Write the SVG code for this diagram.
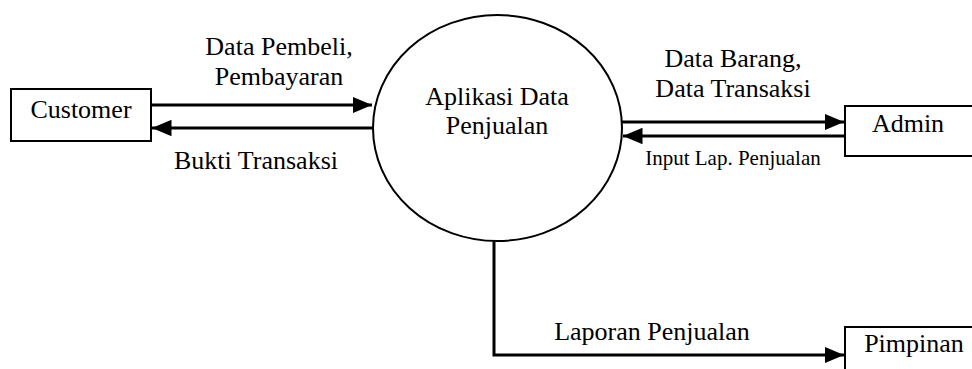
<svg xmlns="http://www.w3.org/2000/svg" width="972" height="369" viewBox="0 0 972 369">
<style>
.box{fill:#fff;stroke:#000;stroke-width:2}
.ln{fill:none;stroke:#000;stroke-width:3}
text{font-family:"Liberation Serif","Times New Roman",serif;font-size:26px;fill:#000}
.sm{font-size:21px}
</style>
<defs>
<marker id="ah" viewBox="0 0 10 10" refX="10" refY="5" markerWidth="6.5" markerHeight="5.5" orient="auto" markerUnits="strokeWidth" preserveAspectRatio="none"><path d="M0,0 L10,5 L0,10 Z" fill="#000"/></marker>
</defs>
<rect width="972" height="369" fill="#fff"/>
<g id="connectors">
<line class="ln" x1="151" y1="105" x2="372" y2="105" marker-end="url(#ah)"/>
<line class="ln" x1="373" y1="128" x2="152" y2="128" marker-end="url(#ah)"/>
<line class="ln" x1="622" y1="122" x2="844" y2="122" marker-end="url(#ah)"/>
<line class="ln" x1="845" y1="136" x2="623" y2="136" marker-end="url(#ah)"/>
<polyline class="ln" points="494,241 494,355 844,355" marker-end="url(#ah)"/>
<text x="279" y="55" text-anchor="middle">Data Pembeli,</text>
<text x="279" y="85" text-anchor="middle">Pembayaran</text>
<text x="256" y="169" text-anchor="middle">Bukti Transaksi</text>
<text x="733" y="67" text-anchor="middle">Data Barang,</text>
<text x="733" y="97" text-anchor="middle">Data Transaksi</text>
<text class="sm" x="733" y="165" text-anchor="middle">Input Lap. Penjualan</text>
<text x="652" y="340" text-anchor="middle">Laporan Penjualan</text>
</g>
<g id="process">
<ellipse cx="497.5" cy="128" rx="124.5" ry="113" fill="#fff" stroke="#000" stroke-width="2"/>
<text x="497" y="105" text-anchor="middle">Aplikasi Data</text>
<text x="497" y="134" text-anchor="middle">Penjualan</text>
</g>
<g id="customer">
<rect class="box" x="11" y="89" width="140" height="52"/>
<text x="81" y="118" text-anchor="middle">Customer</text>
</g>
<g id="admin">
<rect class="box" x="845" y="106" width="140" height="50"/>
<text x="908" y="132" text-anchor="middle">Admin</text>
</g>
<g id="pimpinan">
<rect class="box" x="845" y="327" width="140" height="60"/>
<text x="914" y="352" text-anchor="middle">Pimpinan</text>
</g>
</svg>
